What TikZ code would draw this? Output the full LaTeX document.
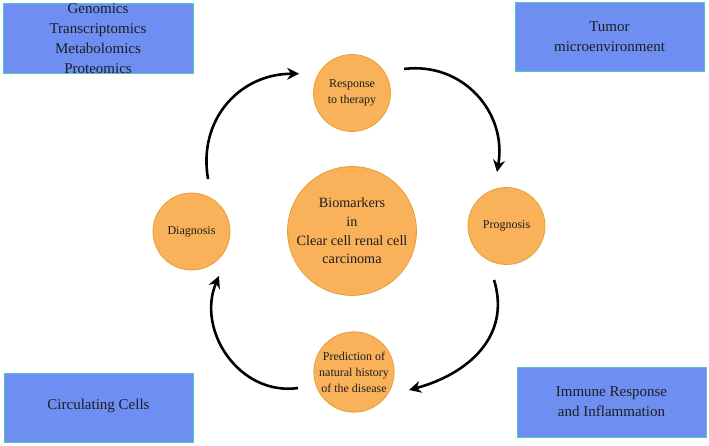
\documentclass[tikz,border=0pt]{standalone}
\usepackage{fontspec}
\setmainfont{Liberation Serif}
\usetikzlibrary{arrows.meta,calc}
\definecolor{boxblue}{HTML}{6E8EF2}
\definecolor{boxedge}{HTML}{55C2C4}
\definecolor{orfill}{HTML}{F9B15A}
\definecolor{oredge}{HTML}{E6A136}
\definecolor{ink}{HTML}{1E1E1E}
\begin{document}
\begin{tikzpicture}[x=1pt,y=1pt,
  box/.style={draw=boxedge, fill=boxblue, line width=0.9pt, inner sep=0pt},
  boxtext/.style={text=ink, align=center, inner sep=0pt, font=\fontsize{15}{19.8}\selectfont},
  stage/.style={circle, draw=oredge, fill=orfill, line width=0.8pt, inner sep=0pt,
    minimum size=77pt, text=ink, align=center, font=\fontsize{12}{16}\selectfont},
  hub/.style={circle, draw=oredge, fill=orfill, line width=0.8pt, inner sep=0pt,
    minimum size=120pt, text=ink, align=center, font=\fontsize{14.2}{18.7}\selectfont},
  conn/.style={line width=2.6pt, black, -{Stealth[length=12pt,width=12pt,inset=4pt]}, looseness=1.1}
]
\useasboundingbox (0,0) rectangle (709,446);
% boxes
\node[box, minimum width=190pt, minimum height=70pt] (omics) at (98,408) {};
\node[boxtext] (omicst) at (98,407.5) {Genomics\\Transcriptomics\\Metabolomics\\Proteomics};
\node[box, minimum width=189pt, minimum height=69pt] (tumor) at (609.5,409.5) {};
\node[boxtext] (tumort) at (tumor.center) {Tumor\\microenvironment};
\node[box, minimum width=189pt, minimum height=69pt] (circ) at (98.5,38.5) {};
\node[boxtext] (circt) at ($(circ.center)+(0,2)$) {Circulating Cells};
\node[box, minimum width=189pt, minimum height=70pt] (immune) at (611.5,44) {};
\node[boxtext] (immunet) at (immune.center) {Immune Response\\and Inflammation};
% circles
\node[hub] (center) at (352,215) {Biomarkers\\in\\Clear cell renal cell\\carcinoma};
\node[stage] (resp) at (352,353) {Response\\to therapy};
\node[stage] (diag) at (191.5,214.5) {Diagnosis};
\node[stage] (prog) at (506.5,220) {Prognosis};
\node[stage] (pred) at (354,74) {Prediction of\\natural history\\of the disease};
% arrows
\draw[conn] ($(diag)+(72.5:55)$) to[out=100,in=180] ($(resp)+(160:56.3)$);
\draw[conn] ($(resp)+(24.8:57.3)$) to[out=7,in=80] ($(prog)+(100:54.8)$);
\draw[conn] ($(prog)+(257:55.4)$) to[out=-73,in=15] ($(pred)+(-18.1:57.9)$);
\draw[conn] ($(pred)+(196:58.2)$) to[out=188,in=247] ($(diag)+(301.7:52.3)$);
\end{tikzpicture}
\end{document}
